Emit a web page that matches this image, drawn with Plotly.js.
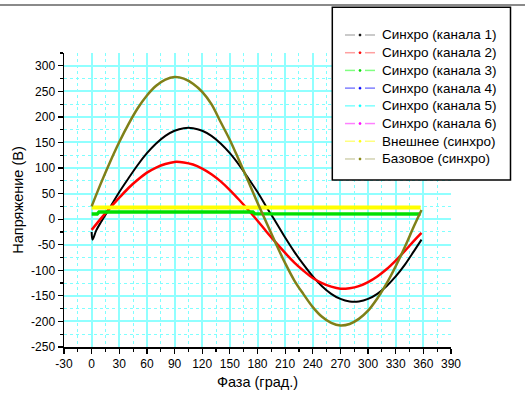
<!DOCTYPE html>
<html>
<head>
<meta charset="utf-8">
<script src="https://cdn.plot.ly/plotly-3.0.1.min.js"></script>
<style>html,body{margin:0;padding:0;background:#fff;}#chart{width:525px;height:405px;}</style>
</head>
<body>
<div id="chart"></div>
<script>
// Phase (degrees) sample positions
var phase = [0,10,20,30,40,50,60,70,80,90,100,110,120,130,140,150,160,170,180,190,200,210,220,230,240,250,260,270,280,290,300,310,320,330,340,350,358];

// Channel 1 sync (black)
var ch1Phase = [0,1,5].concat(phase.slice(1));
var ch1 = [-25,-40,-22,-6,23,53,80,106,129,148,163,173,178,178,173,163,148,129,106,80,53,23,-6,-36,-64,-89,-112,-131,-146,-156,-161,-161,-156,-146,-131,-112,-89,-62,-40];

// Channel 2 sync (red)
var ch2 = [-21,1,22,42,61,77,91,101,108,112,111,107,99,88,74,57,38,18,-3,-25,-46,-66,-85,-101,-115,-125,-132,-136,-135,-131,-123,-112,-98,-81,-62,-42,-27];

// Channel 3 sync (green)
var ch3Phase = [0,6,8,30,60,90,120,150,175,177,200,240,280,320,357];
var ch3 = [10,10,14,14,15,14,14,14,14,10.5,10.5,10.5,10.5,10,10];

// External sync (yellow)
var extPhase = [0,90,180,270,357];
var ext = [23,23,23,23,23];

// Base sync (olive)
var base = [25,70,112,151,186,217,242,261,273,278,275,265,249,225,190,155,115,74,32,-8,-48,-86,-120,-147,-172,-191,-203,-208,-205,-195,-179,-155,-126,-92,-54,-13,18];

var legendNames = ['Синхро (канала 1)','Синхро (канала 2)','Синхро (канала 3)','Синхро (канала 4)','Синхро (канала 5)','Синхро (канала 6)','Внешнее (синхро)','Базовое (синхро)'];
var legendLineColors = ['#b8b8b8','#ffa0a0','#80ff80','#8080ff','#80ffff','#ff80ff','#ffff80','#d2d2b0'];
var legendMarkerColors = ['#000000','#ff0000','#00dd00','#0000ff','#00ffff','#ff00ff','#ffff00','#808000'];

var xTickVals = [-30,0,30,60,90,120,150,180,210,240,270,300,330,360,390];
var yTickVals = [-250,-200,-150,-100,-50,0,50,100,150,200,250,300];

var traces = [
  {x: ch1Phase, y: ch1, name: legendNames[0], mode:'lines', line:{color:'#000000', width:2, shape:'spline'}, hoverinfo:'skip'},
  {x: phase, y: ch2, name: legendNames[1], mode:'lines', line:{color:'#ff0000', width:2.5, shape:'spline'}, hoverinfo:'skip'},
  {x: ch3Phase, y: ch3, name: legendNames[2], mode:'lines', line:{color:'#00e000', width:3.5}, hoverinfo:'skip'},
  {x: extPhase, y: ext, name: legendNames[6], mode:'lines', line:{color:'#ffff00', width:4}, hoverinfo:'skip'},
  {x: phase, y: base, name: legendNames[7], mode:'lines', line:{color:'#808018', width:2.5, shape:'spline'}, hoverinfo:'skip'}
];

var W = 525, H = 405;
var L = 64, R = 74, T = 53, B = 58;
var pw = W - L - R, ph = H - T - B;
function px(xp){ return (xp - L) / pw; }
function py(yp){ return (H - B - yp) / ph; }

var shapes = [
  {type:'line', xref:'paper', yref:'paper', x0: px(0), x1: px(525), y0: py(5), y1: py(5), line:{color:'#8a8a8a', width:2}},
  {type:'rect', xref:'paper', yref:'paper', x0: px(332.3), x1: px(510.5), y0: py(180), y1: py(7.3), line:{color:'#000', width:1.5}, fillcolor:'#ffffff', layer:'above'}
];
var annotations = [];
for (var i = 0; i < legendNames.length; i++) {
  var yc = 35 + i * 17.71;
  shapes.push({type:'line', xref:'paper', yref:'paper', x0: px(345), x1: px(355), y0: py(yc), y1: py(yc), line:{color: legendLineColors[i], width:1.5}, layer:'above'});
  shapes.push({type:'line', xref:'paper', yref:'paper', x0: px(365), x1: px(375), y0: py(yc), y1: py(yc), line:{color: legendLineColors[i], width:1.5}, layer:'above'});
  shapes.push({type:'circle', xref:'paper', yref:'paper', x0: px(359), x1: px(361), y0: py(yc+1), y1: py(yc-1), line:{color: legendMarkerColors[i], width:0.8}, fillcolor: legendMarkerColors[i], layer:'above'});
  annotations.push({xref:'paper', yref:'paper', x: px(380), y: py(yc), xanchor:'left', yanchor:'middle', showarrow:false, text: legendNames[i], font:{size:13.5, color:'#000'}});
}

var layout = {
  width: W, height: H,
  margin: {l:L, r:R, t:T, b:B, pad:0},
  paper_bgcolor:'#ffffff', plot_bgcolor:'#ffffff',
  showlegend:false,
  font: {family:'"Liberation Sans", Arial, sans-serif', color:'#000', size:12},
  xaxis: {
    range:[-30,390], tickvals: xTickVals, ticktext: xTickVals.map(String), tickangle:0,
    showline:true, linecolor:'#000', linewidth:1.5, mirror:false,
    ticks:'outside', ticklen:5, tickwidth:1.2, tickcolor:'#000',
    showgrid:true, gridcolor:'#90ffff', gridwidth:2, zeroline:false,
    minor:{dtick:15, tick0:-30, ticks:'outside', ticklen:3, tickcolor:'#000', showgrid:true, gridcolor:'#80ffff', griddash:'dot', gridwidth:1},
    tickfont:{size:12}, automargin:false,
    title:{text:'Фаза (град.)', font:{size:14.5}, standoff:7}
  },
  yaxis: {
    range:[-250,325], tickvals: yTickVals, ticktext: yTickVals.map(String),
    showline:true, linecolor:'#000', linewidth:1.5,
    ticks:'outside', ticklen:5, tickwidth:1.2, tickcolor:'#000',
    showgrid:true, gridcolor:'#90ffff', gridwidth:2, zeroline:false,
    minor:{dtick:25, tick0:-250, ticks:'outside', ticklen:3, tickcolor:'#000', showgrid:true, gridcolor:'#80ffff', griddash:'dot', gridwidth:1},
    tickfont:{size:12}, automargin:false,
    title:{text:'Напряжение (В)', font:{size:14.5}, standoff:4}
  },
  shapes: shapes,
  annotations: annotations
};

Plotly.newPlot('chart', traces, layout, {staticPlot:true, displayModeBar:false});
</script>
</body>
</html>
